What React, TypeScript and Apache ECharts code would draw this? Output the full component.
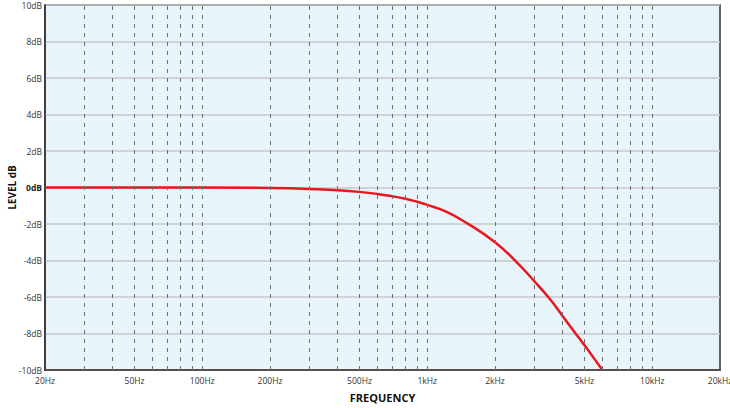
import React, { useEffect, useRef } from "react";
import * as echarts from "echarts";

const frequencies = [20, 50, 100, 200, 300, 400, 500, 600, 700, 800, 900, 1000, 1200, 1500, 2000, 2500, 3000, 3500, 4000, 4500, 5000, 5500, 6000];
const levels = [0, 0, 0, -0.03, -0.08, -0.15, -0.24, -0.35, -0.48, -0.62, -0.78, -0.95, -1.3, -1.95, -3.0, -4.1, -5.15, -6.1, -7.05, -7.9, -8.65, -9.35, -10];

const xLabelValues = [20, 50, 100, 200, 500, 1000, 2000, 5000, 10000, 20000];
const gridFreqs = [30, 40, 50, 60, 70, 80, 90, 100, 200, 300, 400, 500, 600, 700, 800, 900, 1000, 2000, 3000, 4000, 5000, 6000, 7000, 8000, 9000, 10000];

const FONT = "'Open Sans', 'DejaVu Sans', sans-serif";

export default function App() {
  const ref = useRef<HTMLDivElement>(null);
  useEffect(() => {
    document.body.style.margin = "0";
    const chart = echarts.init(ref.current!, null, { renderer: "svg" });
    const fmtHz = (v: number) => {
      const r = Math.round(v);
      return r >= 1000 ? `${Math.round(r / 1000)}kHz` : `${r}Hz`;
    };
    chart.setOption({
      animation: false,
      grid: {
        left: 45,
        right: 10,
        top: 5,
        bottom: 38,
        containLabel: false,
        outerBoundsMode: "none",
        show: true,
        backgroundColor: "#e7f4f9",
        borderColor: "#333",
        borderWidth: 1.5,
      },
      xAxis: {
        type: "log",
        logBase: 10,
        min: 20,
        max: 20000,
        name: "FREQUENCY",
        nameLocation: "middle",
        nameGap: 22,
        nameMoveOverlap: false,
        nameTextStyle: { fontFamily: FONT, fontWeight: "bold", fontSize: 11, color: "#111" },
        axisLine: { show: true, onZero: false, lineStyle: { color: "#333", width: 1.5 } },
        axisTick: { show: false },
        splitLine: { show: false },
        minorSplitLine: { show: false },
        axisLabel: {
          customValues: xLabelValues,
          formatter: (v: number) => fmtHz(v),
          fontFamily: FONT,
          fontSize: 8.5,
          color: "#333",
          margin: 6,
          hideOverlap: false,
        },
      },
      yAxis: {
        type: "value",
        min: -10,
        max: 10,
        interval: 2,
        name: "LEVEL dB",
        nameLocation: "middle",
        nameGap: 28,
        nameMoveOverlap: false,
        nameRotate: 90,
        nameTextStyle: { fontFamily: FONT, fontWeight: "bold", fontSize: 10, color: "#111" },
        axisLine: { show: true, onZero: false, lineStyle: { color: "#333", width: 1.5 } },
        axisTick: { show: false },
        splitLine: { show: true, lineStyle: { color: "#c9c9c9", width: 1.5 } },
        axisLabel: {
          formatter: (v: number) => (v === 0 ? "{b|0dB}" : `${v}dB`),
          rich: { b: { fontWeight: "bold", fontFamily: FONT, fontSize: 8.5, color: "#222" } },
          fontFamily: FONT,
          fontSize: 8.5,
          color: "#333",
          margin: 3,
        },
      },
      series: [
        {
          type: "line",
          data: [],
          silent: true,
          z: 1,
          markLine: {
            silent: true,
            symbol: ["none", "none"],
            label: { show: false },
            lineStyle: { color: "#6f6f6f", type: [4, 5], width: 1 },
            data: gridFreqs.map((f) => ({ xAxis: f })),
          },
        },
        {
          type: "line",
          data: frequencies.map((f, i) => [f, levels[i]]),
          showSymbol: false,
          smooth: 0.5,
          z: 3,
          lineStyle: { color: "#e8161e", width: 2.5 },
        },
      ],
    });
    return () => chart.dispose();
  }, []);
  return <div ref={ref} style={{ width: 730, height: 408 }} />;
}
